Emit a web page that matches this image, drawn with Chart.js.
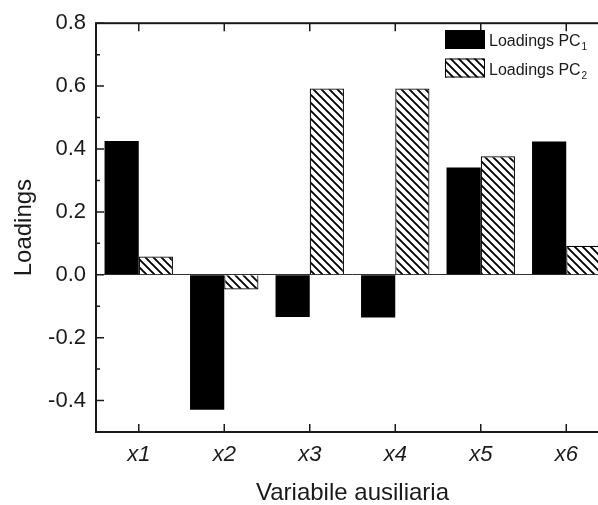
<!DOCTYPE html>
<html>
<head>
<meta charset="utf-8">
<script src="https://cdn.jsdelivr.net/npm/chart.js@4.4.1/dist/chart.umd.min.js"></script>
<style>
html, body { margin: 0; padding: 0; background: #fff; overflow: hidden; }
#wrap { width: 598px; height: 505px; overflow: hidden; }
</style>
</head>
<body>
<div id="wrap"><canvas id="chart" width="620" height="505"></canvas></div>
<script>
'use strict';

const categories = ['x1', 'x2', 'x3', 'x4', 'x5', 'x6'];
const loadingsPC1 = [0.425, -0.429, -0.134, -0.136, 0.341, 0.424];
const loadingsPC2 = [0.058, -0.047, 0.592, 0.592, 0.377, 0.092];
const seriesNames = ['Loadings PC', 'Loadings PC'];
const seriesSubs = ['1', '2'];
const yTicks = [-0.4, -0.2, 0, 0.2, 0.4, 0.6, 0.8];
const yMinorTicks = [-0.3, -0.1, 0.1, 0.3, 0.5, 0.7];

const FONT = "'Liberation Sans', Arial, sans-serif";
const INK = '#1a1a1a';

function makeHatch() {
    const s = 8;
    const c = document.createElement('canvas');
    c.width = s; c.height = s;
    const g = c.getContext('2d');
    g.fillStyle = '#fff';
    g.fillRect(0, 0, s, s);
    g.strokeStyle = '#000';
    g.lineWidth = 1.9;
    g.beginPath();
    g.moveTo(0, 0); g.lineTo(s, s);
    g.moveTo(s - 2, -2); g.lineTo(s + 2, 2);
    g.moveTo(-2, s - 2); g.lineTo(2, s + 2);
    g.stroke();
    return g.createPattern(c, 'repeat');
}
const hatch = makeHatch();

// axes frame with inward ticks
const frame = {
    id: 'frame',
    afterDatasetsDraw(chart) {
        const {ctx, chartArea: a, scales: {x, y}} = chart;
        ctx.save();
        ctx.strokeStyle = INK;
        ctx.lineWidth = 2;
        ctx.strokeRect(a.left, a.top, a.right - a.left, a.bottom - a.top);
        ctx.lineWidth = 1.5;
        ctx.beginPath();
        yTicks.forEach(v => {
            const p = y.getPixelForValue(v);
            ctx.moveTo(a.left, p); ctx.lineTo(a.left + 8, p);
            ctx.moveTo(a.right, p); ctx.lineTo(a.right - 8, p);
        });
        yMinorTicks.forEach(v => {
            const p = y.getPixelForValue(v);
            ctx.moveTo(a.left, p); ctx.lineTo(a.left + 4, p);
            ctx.moveTo(a.right, p); ctx.lineTo(a.right - 4, p);
        });
        categories.forEach((c, i) => {
            const p = x.getPixelForValue(i);
            ctx.moveTo(p, a.bottom); ctx.lineTo(p, a.bottom - 8);
            ctx.moveTo(p, a.top); ctx.lineTo(p, a.top + 8);
        });
        ctx.stroke();
        ctx.restore();
    }
};

// legend drawn inside the plot, top right
const legendBox = {
    id: 'legendBox',
    afterDraw(chart) {
        const ctx = chart.ctx;
        ctx.save();
        chart.data.datasets.forEach((ds, i) => {
            const bx = 445, by = 30 + i * 28.5, bw = 40, bh = 19;
            ctx.fillStyle = ds.backgroundColor;
            ctx.fillRect(bx, by, bw, bh);
            ctx.strokeStyle = '#000';
            ctx.lineWidth = 1;
            ctx.strokeRect(bx + 0.5, by + 0.5, bw - 1, bh - 1);
            ctx.fillStyle = INK;
            ctx.textBaseline = 'alphabetic';
            ctx.textAlign = 'left';
            ctx.font = '16px ' + FONT;
            const tx = 489, ty = by + 16;
            ctx.fillText(seriesNames[i], tx, ty);
            const w = ctx.measureText(seriesNames[i]).width;
            ctx.font = '10px ' + FONT;
            ctx.fillText(seriesSubs[i], tx + w + 1, ty + 4);
        });
        ctx.restore();
    }
};

const ctx = document.getElementById('chart').getContext('2d');
const myChart = new Chart(ctx, {
    type: 'bar',
    data: {
        labels: categories,
        datasets: [{
            label: seriesNames[0] + seriesSubs[0],
            data: loadingsPC1,
            backgroundColor: '#000',
            borderColor: '#000',
            borderWidth: 0
        }, {
            label: seriesNames[1] + seriesSubs[1],
            data: loadingsPC2,
            backgroundColor: hatch,
            borderColor: '#000',
            borderWidth: 1.2
        }]
    },
    options: {
        responsive: false,
        animation: false,
        layout: {padding: {top: 18, right: 11, left: 0, bottom: 0}},
        datasets: {bar: {categoryPercentage: 0.8, barPercentage: 1.0}},
        plugins: {legend: {display: false}, tooltip: {enabled: false}},
        scales: {
            x: {
                grid: {display: false, drawTicks: false},
                border: {display: false},
                ticks: {
                    color: INK,
                    padding: 10,
                    font: {family: FONT, size: 22, style: 'italic'}
                },
                title: {
                    display: true,
                    text: 'Variabile ausiliaria',
                    color: INK,
                    padding: 0,
                    font: {family: FONT, size: 24, lineHeight: 1}
                },
                afterFit(scale) { scale.height = 73; }
            },
            y: {
                min: -0.5,
                max: 0.8,
                afterBuildTicks(scale) { scale.ticks = yTicks.map(v => ({value: v})); },
                grid: {
                    drawTicks: false,
                    lineWidth: 1,
                    color: c => (c.tick && c.tick.value === 0) ? '#333' : 'rgba(0,0,0,0)'
                },
                border: {display: false},
                ticks: {
                    color: INK,
                    padding: 10,
                    font: {family: FONT, size: 22},
                    callback: v => Number(v).toFixed(1)
                },
                title: {
                    display: true,
                    text: 'Loadings',
                    color: INK,
                    padding: {top: 12, bottom: 0},
                    font: {family: FONT, size: 24, lineHeight: 1}
                },
                afterFit(scale) { scale.width = 96; }
            }
        }
    },
    plugins: [frame, legendBox]
});
</script>
</body>
</html>
